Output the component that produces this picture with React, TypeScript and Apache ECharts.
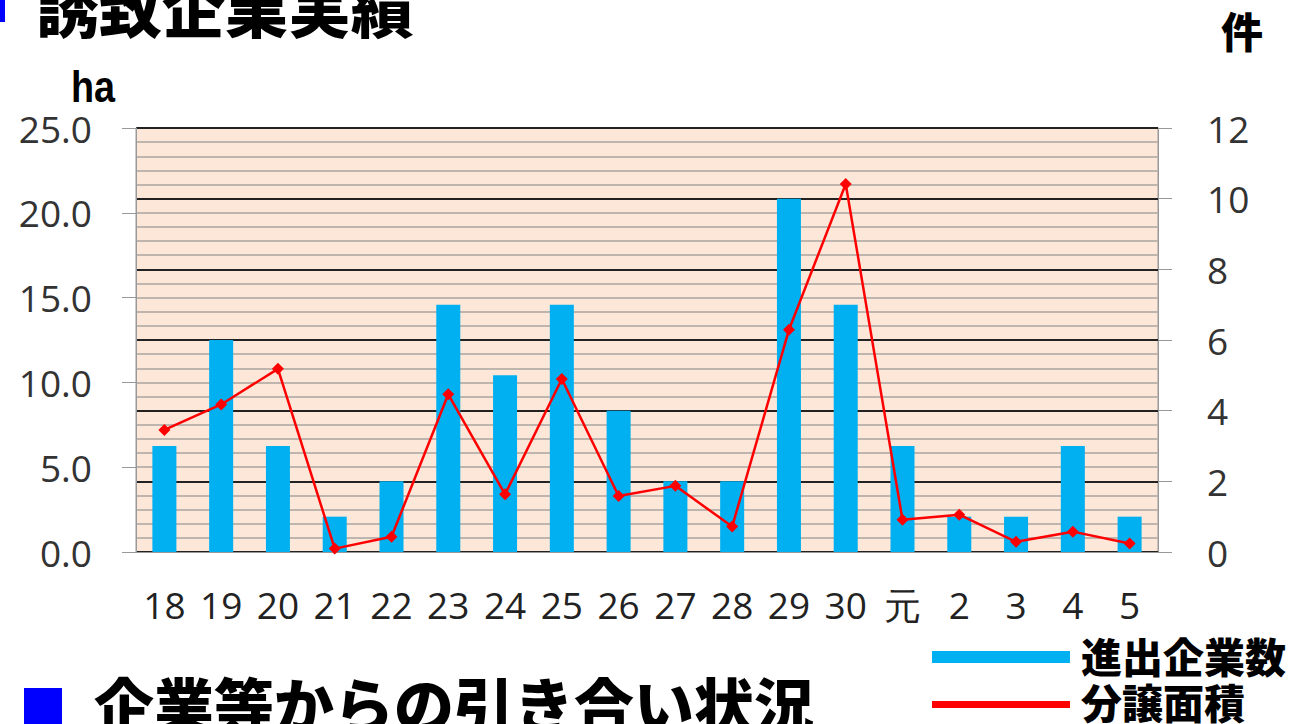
import React, { useEffect, useRef } from "react";
import * as echarts from "echarts";

const categories = ["18", "19", "20", "21", "22", "23", "24", "25", "26", "27", "28", "29", "30", "元", "2", "3", "4", "5"];
const companyCounts = [3, 6, 3, 1, 2, 7, 5, 7, 4, 2, 2, 10, 7, 3, 1, 1, 3, 1];
const saleArea = [7.2, 8.7, 10.8, 0.2, 0.9, 9.3, 3.4, 10.2, 3.3, 3.9, 1.5, 13.1, 21.7, 1.9, 2.2, 0.6, 1.2, 0.5];
const seriesNames = ["進出企業数", "分譲面積"];
const titleText = "誘致企業実績";
const bottomText = "企業等からの引き合い状況";

const CJK = '"Noto Sans CJK JP", "Noto Sans CJK SC", sans-serif';
const LABEL_FONT = '"Open Sans", "DejaVu Sans", sans-serif';

export default function App() {
  const ref = useRef<HTMLDivElement>(null);
  useEffect(() => {
    const chart = echarts.init(ref.current!, null, { renderer: "svg" });
    chart.setOption({
      animation: false,
      grid: {
        left: 136,
        right: 135,
        top: 128,
        bottom: 172,
        show: true,
        backgroundColor: "#fce7d9",
        borderColor: "#999",
        borderWidth: 1,
      },
      xAxis: {
        type: "category",
        data: categories,
        axisLine: { lineStyle: { color: "#999", width: 1 } },
        axisTick: { show: false },
        axisLabel: { interval: 0, fontSize: 37, color: "#222", margin: 34, fontFamily: LABEL_FONT },
      },
      yAxis: [
        {
          type: "value",
          position: "left",
          min: 0,
          max: 25,
          interval: 5,
          splitLine: { show: false },
          axisLine: { show: true, lineStyle: { color: "#999", width: 1 } },
          axisTick: { show: true, length: 14, lineStyle: { color: "#999" } },
          axisLabel: {
            formatter: (v: number) => v.toFixed(1),
            fontSize: 37,
            color: "#333",
            margin: 44,
            fontFamily: LABEL_FONT,
          },
        },
        {
          type: "value",
          position: "right",
          min: 0,
          max: 12,
          interval: 2,
          splitLine: { show: true, lineStyle: { color: "#222", width: 2 } },
          minorTick: { show: false, splitNumber: 5 },
          minorSplitLine: { show: true, lineStyle: { color: "#bdb5ae", width: 2 } },
          axisLine: { show: true, lineStyle: { color: "#999", width: 1 } },
          axisTick: { show: true, length: 14, lineStyle: { color: "#999" } },
          axisLabel: { fontSize: 37, color: "#333", margin: 49, fontFamily: LABEL_FONT },
        },
      ],
      series: [
        {
          name: seriesNames[0],
          type: "bar",
          yAxisIndex: 1,
          data: companyCounts,
          barWidth: 24,
          itemStyle: { color: "#00b0f0" },
        },
        {
          name: seriesNames[1],
          type: "line",
          yAxisIndex: 0,
          data: saleArea,
          symbol: "diamond",
          symbolSize: 12,
          lineStyle: { color: "#ff0000", width: 2.5 },
          itemStyle: { color: "#ff0000" },
        },
      ],
      graphic: [
        { type: "rect", shape: { x: 0, y: 0, width: 5, height: 22 }, style: { fill: "#0000ff" } },
        {
          type: "text",
          x: 36,
          y: 36,
          style: { text: titleText, font: `900 63px ${CJK}`, fill: "#000", textVerticalAlign: "bottom" },
        },
        {
          type: "text",
          x: 71,
          y: 64,
          scaleX: 0.84,
          style: { text: "ha", font: `bold 45px "Liberation Sans", sans-serif`, fill: "#000" },
        },
        {
          type: "text",
          x: 1221,
          y: 8,
          style: { text: "件", font: `900 42px ${CJK}`, fill: "#000" },
        },
        { type: "rect", shape: { x: 932, y: 651, width: 138, height: 12 }, style: { fill: "#00b0f0" } },
        { type: "rect", shape: { x: 932, y: 701, width: 138, height: 7 }, style: { fill: "#ff0000" } },
        {
          type: "text",
          x: 1081,
          y: 634,
          style: { text: seriesNames[0], font: `900 41px ${CJK}`, fill: "#000" },
        },
        {
          type: "text",
          x: 1081,
          y: 680,
          style: { text: seriesNames[1], font: `900 41px ${CJK}`, fill: "#000" },
        },
        { type: "rect", shape: { x: 24, y: 688, width: 38, height: 40 }, style: { fill: "#0000ff" } },
        {
          type: "text",
          x: 94,
          y: 672,
          style: { text: bottomText, font: `900 60px ${CJK}`, fill: "#000" },
        },
      ],
    });
    return () => chart.dispose();
  }, []);
  return <div ref={ref} style={{ position: "absolute", left: 0, top: 0, width: 1293, height: 724 }} />;
}
